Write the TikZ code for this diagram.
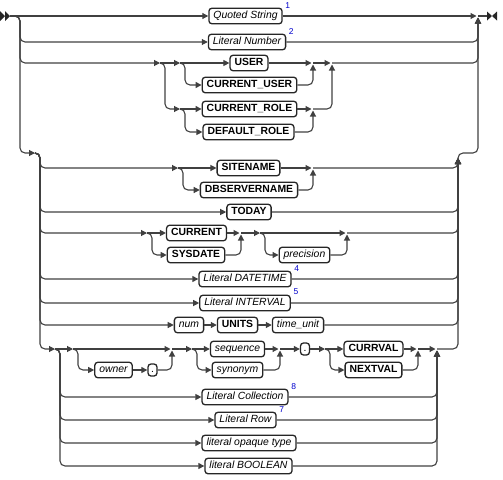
\documentclass[tikz,border=0pt]{standalone}
\usepackage{fontspec}
\setmainfont{Liberation Sans}
\usetikzlibrary{arrows.meta}
\begin{document}
\begin{tikzpicture}[x=1pt,y=-1pt,
 rr/.style={draw=black!75, line width=1.1pt, rounded corners=5pt},
 ar/.style={rr, -{Triangle[length=6pt,width=6pt]}},
 arj/.style={ar, shorten >=1.5pt},
 box/.style={draw=black!85, line width=1.3pt, rounded corners=3pt, fill=white, minimum height=15.5pt, inner xsep=4.5pt, inner ysep=0pt, text height=7.6pt, text depth=2.2pt},
 kw/.style={box, font=\fontsize{10.4}{12}\selectfont\bfseries},
 nt/.style={box, font=\fontsize{10.4}{12}\selectfont\itshape},
 dotbox/.style={box, font=\fontsize{10.4}{12}\selectfont, inner xsep=2pt, minimum width=9pt, minimum height=12pt},
 fn/.style={font=\fontsize{8.5}{9}\selectfont, text=blue!80!black, inner sep=0pt, anchor=west},
 endmark/.style={fill=black!85}
]
\useasboundingbox (0,0) rectangle (503,479);

% ---------- boxes ----------
\node[nt] (qs) at (245.5,16) {Quoted String};
\node[nt] (ln) at (247,42) {Literal Number};
\node[kw] (user) at (249,63) {USER};
\node[kw] (cuser) at (249.5,85) {CURRENT\_USER};
\node[kw] (crole) at (249.5,109) {CURRENT\_ROLE};
\node[kw] (drole) at (248.5,132) {DEFAULT\_ROLE};
\node[kw] (site) at (248.5,168) {SITENAME};
\node[kw] (dbs) at (249,190) {DBSERVERNAME};
\node[kw] (today) at (249,212) {TODAY};
\node[kw] (current) at (196.5,233) {CURRENT};
\node[kw] (sysdate) at (196,255) {SYSDATE};
\node[nt] (prec) at (304.5,255) {precision};
\node[nt] (ldt) at (245,279) {Literal DATETIME};
\node[nt] (lint) at (245,303) {Literal INTERVAL};
\node[nt] (num) at (189,325) {num};
\node[kw] (units) at (237.5,325) {UNITS};
\node[nt] (tunit) at (298,325) {time\_unit};
\node[nt] (owner) at (113.5,370) {owner};
\node[dotbox] (dot1) at (152.5,370) {.};
\node[nt] (seq) at (237.5,349) {sequence};
\node[nt] (syn) at (237.5,370) {synonym};
\node[dotbox] (dot2) at (305,349) {.};
\node[kw] (currval) at (373.5,349) {CURRVAL};
\node[kw] (nextval) at (373.5,370) {NEXTVAL};
\node[nt] (lcoll) at (245,397) {Literal Collection};
\node[nt] (lrow) at (245.5,420) {Literal Row};
\node[nt] (lopq) at (249,443) {literal opaque type};
\node[nt] (lbool) at (248.5,466) {literal BOOLEAN};

% footnote marks
\node[fn] (f1) at ([xshift=2.5pt,yshift=2.5pt]qs.north east) {1};
\node[fn] (f2) at ([xshift=2.5pt,yshift=2.5pt]ln.north east) {2};
\node[fn] (f4) at ([xshift=2.5pt,yshift=2.5pt]ldt.north east) {4};
\node[fn] (f5) at ([xshift=2.5pt,yshift=2.5pt]lint.north east) {5};
\node[fn] (f8) at ([xshift=2.5pt,yshift=2.5pt]lcoll.north east) {8};
\node[fn] (f7) at ([xshift=2.5pt,yshift=2.5pt]lrow.north east) {7};

% ---------- coordinates ----------
\coordinate (start) at (10,16);
\coordinate (msplit) at (20,16);
\coordinate (mjoin) at (478,16);
\coordinate (end) at (487,16);
\coordinate (r1a) at (160,63);  \coordinate (r1s) at (165,63);
\coordinate (r2a) at (180,63);  \coordinate (r2s) at (185,63);
\coordinate (r3a) at (180,109); \coordinate (r3s) at (185,109);
\coordinate (j1) at (313,63);   \coordinate (j2) at (313,109);
\coordinate (j0) at (332,63);
\coordinate (b2arr) at (35,153); \coordinate (b2s) at (40,153);
\coordinate (b2ja) at (458,158); \coordinate (b2j) at (458,153);
\coordinate (mj2) at (478,153);
\coordinate (sa) at (178,168);  \coordinate (ss) at (183,168);
\coordinate (sj) at (313,168);
\coordinate (ca) at (147,233);  \coordinate (cs) at (152,233);
\coordinate (cj) at (241,233);
\coordinate (pa) at (260,233);  \coordinate (ps) at (265,233);
\coordinate (pj) at (347,233);
\coordinate (b3arr) at (55,349); \coordinate (b3s) at (60,349);
\coordinate (oa) at (73,349);   \coordinate (os) at (78,349);
\coordinate (oj) at (172,349);
\coordinate (sqa) at (192,349); \coordinate (sqs) at (197,349);
\coordinate (sqj) at (280,349);
\coordinate (cva) at (325,349); \coordinate (cvs) at (330,349);
\coordinate (cvj) at (418,349);
\coordinate (b3j) at (437,349);

% ---------- start / end marks ----------
\fill[endmark] (0,11) -- (5,16) -- (0,21) -- cycle;
\fill[endmark] (5,11) -- (10,16) -- (5,21) -- cycle;
\fill[endmark] (487,11.5) -- (492,16) -- (487,20.5) -- cycle;
\fill[endmark] (497,11.5) -- (492,16) -- (497,20.5) -- cycle;

% ---------- top block ----------
\draw[ar] (start) -- (qs.west);
\draw[arj] (qs.east) -- (mjoin);
\draw[rr] (mjoin) -- (end);
\draw[ar] (start) -- (msplit) |- (ln.west);
\draw[arj] (ln.east) -| (mjoin);

\draw[ar] (start) -- (msplit) |- (r1a);
\draw[ar] (r1a) -- (r2a);
\draw[ar] (r2a) -- (user.west);
\draw[ar] (r2a) -- (r2s) |- (cuser.west);
\draw[ar] (r1a) -- (r1s) |- (r3a);
\draw[ar] (r3a) -- (crole.west);
\draw[ar] (r3a) -- (r3s) |- (drole.west);
\draw[arj] (user.east) -- (j1);
\draw[arj] (cuser.east) -| (j1);
\draw[arj] (crole.east) -- (j2);
\draw[arj] (drole.east) -| (j2);
\draw[arj] (j1) -- (j0);
\draw[arj] (j2) -| (j0);
\draw[arj] (j0) -| (mjoin);

% ---------- second block ----------
\draw[ar] (start) -- (msplit) |- (b2arr);
\draw[arj] (b2ja) -- (b2j) -- (mj2) -- (mjoin);

\draw[ar] (b2arr) -- (b2s) |- (sa);
\draw[ar] (sa) -- (site.west);
\draw[ar] (sa) -- (ss) |- (dbs.west);
\draw[arj] (site.east) -- (sj);
\draw[arj] (dbs.east) -| (sj);
\draw[ar] (sj) -| (b2ja);

\draw[ar] (b2arr) -- (b2s) |- (today.west);
\draw[ar] (today.east) -| (b2ja);

\draw[ar] (b2arr) -- (b2s) |- (ca);
\draw[ar] (ca) -- (current.west);
\draw[ar] (ca) -- (cs) |- (sysdate.west);
\draw[arj] (current.east) -- (cj);
\draw[arj] (sysdate.east) -| (cj);
\draw[ar] (cj) -- (pa);
\draw[arj] (pa) -- (pj);
\draw[ar] (pa) -- (ps) |- (prec.west);
\draw[arj] (prec.east) -| (pj);
\draw[ar] (pj) -| (b2ja);

\draw[ar] (b2arr) -- (b2s) |- (ldt.west);
\draw[ar] (ldt.east) -| (b2ja);
\draw[ar] (b2arr) -- (b2s) |- (lint.west);
\draw[ar] (lint.east) -| (b2ja);

\draw[ar] (b2arr) -- (b2s) |- (num.west);
\draw[ar] (num.east) -- (units.west);
\draw[ar] (units.east) -- (tunit.west);
\draw[ar] (tunit.east) -| (b2ja);

% ---------- third block ----------
\draw[ar] (b2arr) -- (b2s) |- (b3arr);
\draw[ar] (b3arr) -- (oa);
\draw[arj] (oa) -- (oj);
\draw[ar] (oa) -- (os) |- (owner.west);
\draw[ar] (owner.east) -- (dot1.west);
\draw[arj] (dot1.east) -| (oj);
\draw[ar] (oj) -- (sqa);
\draw[ar] (sqa) -- (seq.west);
\draw[ar] (sqa) -- (sqs) |- (syn.west);
\draw[arj] (seq.east) -- (sqj);
\draw[arj] (syn.east) -| (sqj);
\draw[ar] (sqj) -- (dot2.west);
\draw[ar] (dot2.east) -- (cva);
\draw[ar] (cva) -- (currval.west);
\draw[ar] (cva) -- (cvs) |- (nextval.west);
\draw[arj] (currval.east) -- (cvj);
\draw[arj] (nextval.east) -| (cvj);
\draw[arj] (cvj) -- (b3j);
\draw[ar] (b3j) -| (b2ja);

\draw[ar] (b3arr) -- (b3s) |- (lcoll.west);
\draw[arj] (lcoll.east) -| (b3j);
\draw[ar] (b3arr) -- (b3s) |- (lrow.west);
\draw[arj] (lrow.east) -| (b3j);
\draw[ar] (b3arr) -- (b3s) |- (lopq.west);
\draw[arj] (lopq.east) -| (b3j);
\draw[ar] (b3arr) -- (b3s) |- (lbool.west);
\draw[arj] (lbool.east) -| (b3j);
\end{tikzpicture}
\end{document}
